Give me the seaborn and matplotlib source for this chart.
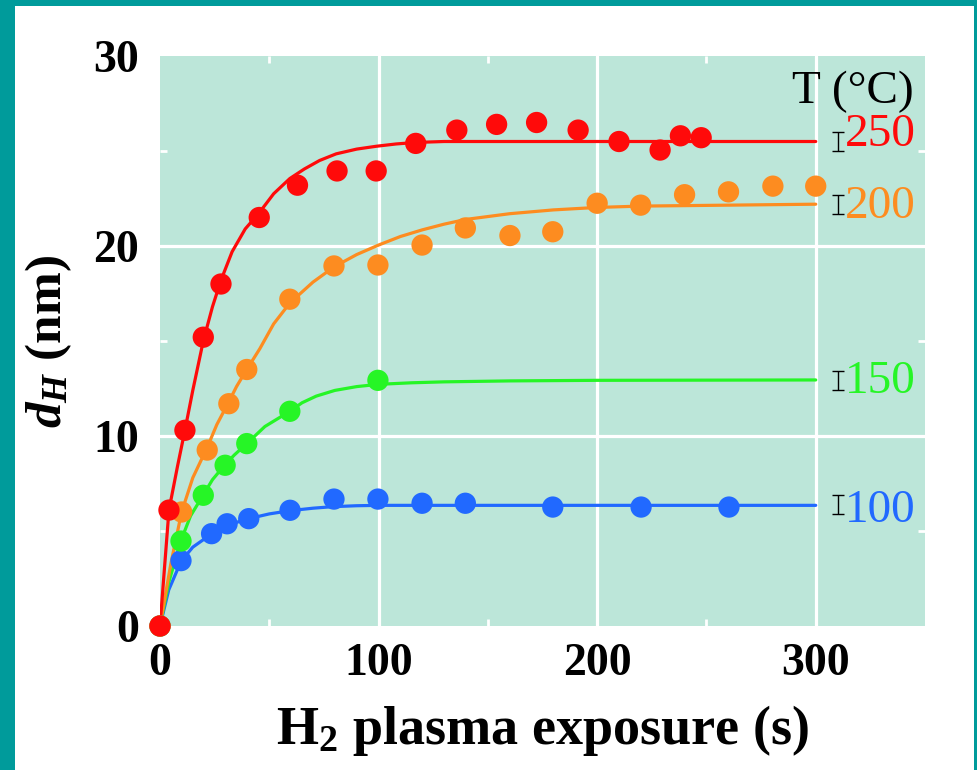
import matplotlib
matplotlib.use("Agg")
import matplotlib.pyplot as plt
import seaborn as sns
import pandas as pd
from matplotlib.patches import Rectangle
from matplotlib.ticker import FixedLocator

# ---- measured hydrogenated depth d_H (nm) vs H2 plasma exposure time (s) ----
t_250 = [0, 4.1, 11.4, 19.8, 27.9, 45.4, 62.9, 81.0, 98.9, 117.0, 135.8, 154.0, 172.3, 191.3, 210.0, 228.8, 238.1, 247.6]
d_250 = [0, 6.1, 10.3, 15.2, 18.0, 21.5, 23.2, 23.95, 23.95, 25.4, 26.1, 26.4, 26.5, 26.1, 25.5, 25.05, 25.8, 25.7]

t_200 = [0, 9.9, 21.6, 31.5, 39.7, 59.4, 79.6, 99.7, 119.9, 139.7, 160.1, 179.7, 200.0, 219.9, 240.0, 260.1, 280.4, 300.0]
d_200 = [0, 6.0, 9.26, 11.7, 13.5, 17.2, 18.95, 19.0, 20.05, 20.95, 20.55, 20.75, 22.25, 22.15, 22.7, 22.85, 23.15, 23.15]

t_150 = [0, 9.6, 19.8, 29.8, 39.7, 59.4, 99.7]
d_150 = [0, 4.47, 6.88, 8.46, 9.6, 11.3, 12.93]

t_100 = [0, 9.6, 23.6, 30.7, 40.6, 59.5, 79.6, 99.7, 119.9, 139.7, 179.7, 220.1, 260.3]
d_100 = [0, 3.44, 4.86, 5.38, 5.65, 6.09, 6.68, 6.68, 6.46, 6.46, 6.26, 6.26, 6.26]

# ---- fitted growth curves ----
fit_t_250 = [0, 4.1, 8, 11.4, 15, 19.8, 24, 27.9, 33, 39, 45.4, 52, 59.4, 66, 73, 80.6, 90, 99, 108, 117, 130, 150, 300]
fit_d_250 = [0, 6.1, 8.4, 10.3, 12.4, 15.0, 16.8, 18.2, 19.7, 20.9, 21.75, 22.75, 23.55, 24.05, 24.5, 24.85, 25.1, 25.25, 25.37, 25.45, 25.5, 25.5, 25.5]

fit_t_200 = [0, 5, 9.9, 15, 21.6, 26, 31.5, 35, 39.7, 45.7, 52, 59.4, 70, 79.6, 90, 100, 110, 120, 130, 140, 150, 160, 180, 200, 220, 260, 300]
fit_d_200 = [0, 3.3, 6.0, 7.8, 9.4, 10.6, 11.8, 12.6, 13.5, 14.6, 15.9, 17.0, 18.1, 18.9, 19.55, 20.05, 20.5, 20.85, 21.15, 21.4, 21.55, 21.7, 21.9, 22.03, 22.1, 22.15, 22.2]

fit_t_150 = [0, 4, 9.6, 14, 19.8, 24, 29.8, 34, 39.7, 48, 59.4, 65, 71.5, 80, 90, 100, 115, 130, 160, 200, 300]
fit_d_150 = [0, 2.3, 4.5, 5.8, 6.9, 7.7, 8.5, 9.0, 9.6, 10.5, 11.3, 11.75, 12.1, 12.4, 12.6, 12.72, 12.8, 12.85, 12.9, 12.93, 12.95]

fit_t_100 = [0, 4, 9.6, 15, 23.6, 30.7, 40.6, 50, 59.5, 70, 79, 90, 100, 150, 300]
fit_d_100 = [0, 1.9, 3.4, 4.15, 4.85, 5.3, 5.65, 5.9, 6.07, 6.2, 6.28, 6.33, 6.35, 6.35, 6.35]

temps = ["100", "150", "200", "250"]            # drawing order (250 on top)
plateau = [6.4, 12.9, 22.2, 25.5]               # saturation depth per temperature
plateau_err = 0.5                               # typical uncertainty (nm)

colors = {"100": "#2169ff", "150": "#26f526", "200": "#fd8c20", "250": "#ff0a0a"}
bg_green = "#bce6d9"
teal = "#009b9b"

# ---- assemble tidy tables ----
pts = pd.concat([
    pd.DataFrame({"t": t_100, "d": d_100, "T": "100"}),
    pd.DataFrame({"t": t_150, "d": d_150, "T": "150"}),
    pd.DataFrame({"t": t_200, "d": d_200, "T": "200"}),
    pd.DataFrame({"t": t_250, "d": d_250, "T": "250"}),
], ignore_index=True)

fits = pd.concat([
    pd.DataFrame({"t": fit_t_100, "d": fit_d_100, "T": "100"}),
    pd.DataFrame({"t": fit_t_150, "d": fit_d_150, "T": "150"}),
    pd.DataFrame({"t": fit_t_200, "d": fit_d_200, "T": "200"}),
    pd.DataFrame({"t": fit_t_250, "d": fit_d_250, "T": "250"}),
], ignore_index=True)

sns.set_theme(style="white")
plt.rcParams["font.family"] = ["Liberation Serif", "DejaVu Serif"]
plt.rcParams["mathtext.fontset"] = "custom"
plt.rcParams["mathtext.rm"] = "Liberation Serif:bold"
plt.rcParams["mathtext.bf"] = "Liberation Serif:bold"
plt.rcParams["mathtext.it"] = "Liberation Serif:italic:bold"
plt.rcParams["text.color"] = "black"
plt.rcParams["axes.labelcolor"] = "black"

fig = plt.figure(figsize=(9.77, 7.70), dpi=100)
fig.patch.set_facecolor("white")
ax = fig.add_axes([160 / 977, 1 - 626 / 770, 765 / 977, 570 / 770])
ax.set_facecolor(bg_green)
for s in ax.spines.values():
    s.set_visible(False)

ax.set_xlim(0, 350)
ax.set_ylim(0, 30)

# white grid on the interior major positions
for gx in [100, 200, 300]:
    ax.axvline(gx, color="white", lw=2.3, zorder=0.5)
for gy in [10, 20]:
    ax.axhline(gy, color="white", lw=2.3, zorder=0.5)

sns.lineplot(data=fits, x="t", y="d", hue="T", hue_order=temps, palette=colors,
             sort=False, estimator=None, linewidth=2.3, legend=False, ax=ax, zorder=2)
sns.scatterplot(data=pts, x="t", y="d", hue="T", hue_order=temps, palette=colors,
                s=235, linewidth=0, legend=False, ax=ax, zorder=3, clip_on=False)

# uncertainty bars beside each curve end
ax.errorbar([310] * len(plateau), plateau, yerr=plateau_err, fmt="none",
            ecolor="black", elinewidth=1.0, capsize=4.5, capthick=1.0, zorder=3)

# temperature labels
label_y = {"250": 25.26, "200": 21.47, "150": 12.26, "100": 5.47}
for T in temps:
    ax.text(313.2, label_y[T], T, color=colors[T], fontsize=34,
            ha="left", va="baseline", zorder=4)
ax.text(344.7, 27.53, "T (°C)", color="black", fontsize=34,
        ha="right", va="baseline", zorder=4)

# ticks
ax.xaxis.set_major_locator(FixedLocator([0, 100, 200, 300]))
ax.yaxis.set_major_locator(FixedLocator([0, 10, 20, 30]))
ax.xaxis.set_minor_locator(FixedLocator([50, 150, 250]))
ax.yaxis.set_minor_locator(FixedLocator([5, 15, 25]))
ax.tick_params(which="major", length=0, labelsize=33, colors="black")
ax.tick_params(axis="x", which="major", pad=12)
ax.tick_params(axis="y", which="major", pad=15)
ax.tick_params(which="minor", direction="in", length=5, width=2, color="white",
               top=True, bottom=True, left=True, right=True)
for lab in ax.get_xticklabels() + ax.get_yticklabels():
    lab.set_fontweight("bold")

ax.set_xlabel("H$_2$ plasma exposure (s)", fontsize=39, fontweight="bold", color="black")
ax.set_ylabel("$d_H$ (nm)", fontsize=37, fontweight="bold", color="black")
ax.xaxis.set_label_coords(0.5, -0.135)
ax.yaxis.set_label_coords(-0.112, 0.5)

# teal frame around the slide
fig.add_artist(Rectangle((0, 0), 15 / 977, 1, transform=fig.transFigure,
                         facecolor=teal, edgecolor="none", zorder=10))
fig.add_artist(Rectangle((0, 1 - 6 / 770), 1, 6 / 770, transform=fig.transFigure,
                         facecolor=teal, edgecolor="none", zorder=10))
fig.add_artist(Rectangle((1 - 3 / 977, 0), 3 / 977, 1, transform=fig.transFigure,
                         facecolor=teal, edgecolor="none", zorder=10))

fig.savefig("out.png", dpi=100)
